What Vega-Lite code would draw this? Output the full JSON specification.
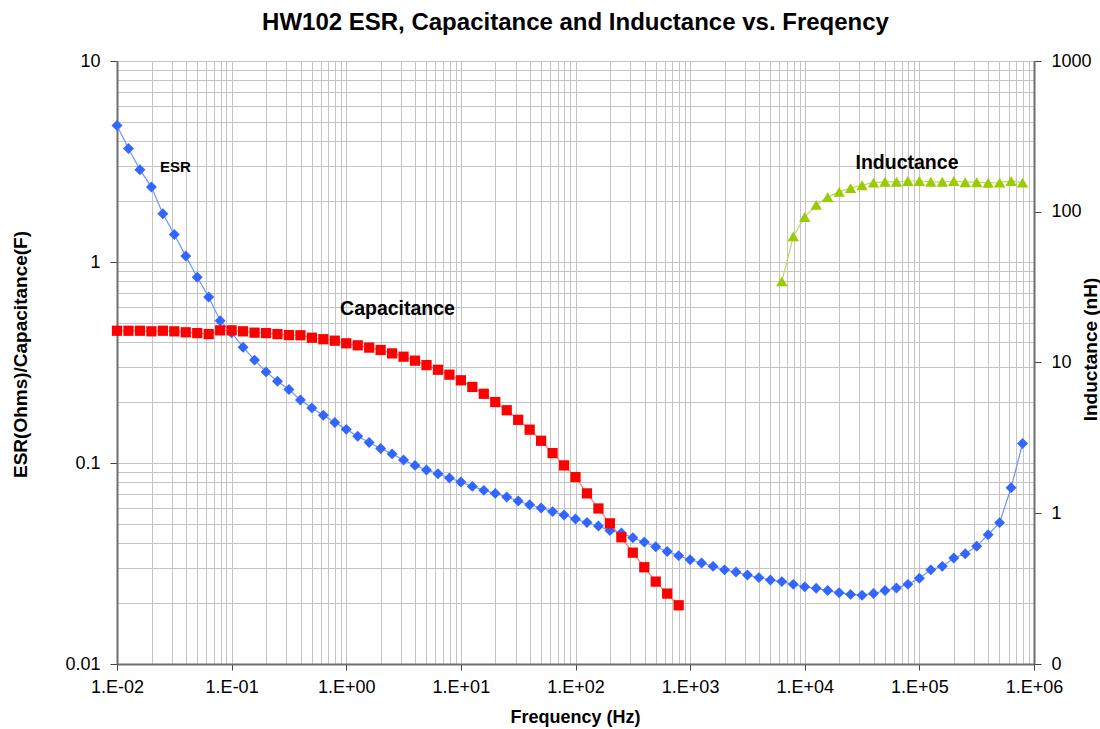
{
  "$schema": "https://vega.github.io/schema/vega-lite/v6.json",
  "width": 917,
  "height": 603,
  "autosize": {"type": "none"},
  "padding": {"left": 117, "top": 61, "right": 66, "bottom": 65},
  "background": "white",
  "config": {"font": "Liberation Sans", "view": {"stroke": null}},
  "title": {"text": "HW102 ESR, Capacitance and Inductance vs. Freqency", "font": "Liberation Sans", "fontSize": 24, "fontWeight": "bold", "color": "#000000", "anchor": "middle", "offset": 17},
  "datasets": {
    "esr": [
      {"f": 0.01, "v": 4.78}, {"f": 0.012589, "v": 3.67}, {"f": 0.015849, "v": 2.88}, {"f": 0.019953, "v": 2.36}, {"f": 0.025119, "v": 1.74},
      {"f": 0.031623, "v": 1.37}, {"f": 0.039811, "v": 1.07}, {"f": 0.050119, "v": 0.84}, {"f": 0.063096, "v": 0.67}, {"f": 0.079433, "v": 0.51},
      {"f": 0.1, "v": 0.444}, {"f": 0.12589, "v": 0.377}, {"f": 0.15849, "v": 0.325}, {"f": 0.19953, "v": 0.284}, {"f": 0.25119, "v": 0.255},
      {"f": 0.31623, "v": 0.232}, {"f": 0.39811, "v": 0.206}, {"f": 0.50119, "v": 0.188}, {"f": 0.63096, "v": 0.173}, {"f": 0.79433, "v": 0.159},
      {"f": 1, "v": 0.147}, {"f": 1.2589, "v": 0.136}, {"f": 1.5849, "v": 0.1265}, {"f": 1.9953, "v": 0.118}, {"f": 2.5119, "v": 0.111},
      {"f": 3.1623, "v": 0.1035}, {"f": 3.9811, "v": 0.0973}, {"f": 5.0119, "v": 0.0923}, {"f": 6.3096, "v": 0.0885}, {"f": 7.9433, "v": 0.0842},
      {"f": 10, "v": 0.0804}, {"f": 12.589, "v": 0.0765}, {"f": 15.849, "v": 0.0731}, {"f": 19.953, "v": 0.0706}, {"f": 25.119, "v": 0.0678},
      {"f": 31.623, "v": 0.0647}, {"f": 39.811, "v": 0.062}, {"f": 50.119, "v": 0.0597}, {"f": 63.096, "v": 0.0573}, {"f": 79.433, "v": 0.0551},
      {"f": 100, "v": 0.0526}, {"f": 125.89, "v": 0.0506}, {"f": 158.49, "v": 0.0486}, {"f": 199.53, "v": 0.0461}, {"f": 251.19, "v": 0.0449},
      {"f": 316.23, "v": 0.0425}, {"f": 398.11, "v": 0.0404}, {"f": 501.19, "v": 0.0383}, {"f": 630.96, "v": 0.0363}, {"f": 794.33, "v": 0.0346},
      {"f": 1000, "v": 0.033}, {"f": 1258.9, "v": 0.0318}, {"f": 1584.9, "v": 0.0306}, {"f": 1995.3, "v": 0.0294}, {"f": 2511.9, "v": 0.0287},
      {"f": 3162.3, "v": 0.0277}, {"f": 3981.1, "v": 0.0269}, {"f": 5011.9, "v": 0.0262}, {"f": 6309.6, "v": 0.0257}, {"f": 7943.3, "v": 0.0249},
      {"f": 10000, "v": 0.0242}, {"f": 12589, "v": 0.0238}, {"f": 15849, "v": 0.0232}, {"f": 19953, "v": 0.0226}, {"f": 25119, "v": 0.0222},
      {"f": 31623, "v": 0.022}, {"f": 39811, "v": 0.0224}, {"f": 50119, "v": 0.0232}, {"f": 63096, "v": 0.0239}, {"f": 79433, "v": 0.0249},
      {"f": 100000, "v": 0.0267}, {"f": 125893, "v": 0.0294}, {"f": 158489, "v": 0.0306}, {"f": 199526, "v": 0.0337}, {"f": 251189, "v": 0.0354},
      {"f": 316228, "v": 0.0385}, {"f": 398107, "v": 0.044}, {"f": 501187, "v": 0.0505}, {"f": 630957, "v": 0.0753}, {"f": 794328, "v": 0.125}
    ],
    "cap": [
      {"f": 0.01, "v": 0.455}, {"f": 0.012589, "v": 0.455}, {"f": 0.015849, "v": 0.455}, {"f": 0.019953, "v": 0.452}, {"f": 0.025119, "v": 0.455},
      {"f": 0.031623, "v": 0.452}, {"f": 0.039811, "v": 0.447}, {"f": 0.050119, "v": 0.443}, {"f": 0.063096, "v": 0.438}, {"f": 0.079433, "v": 0.457},
      {"f": 0.1, "v": 0.457}, {"f": 0.12589, "v": 0.452}, {"f": 0.15849, "v": 0.445}, {"f": 0.19953, "v": 0.443}, {"f": 0.25119, "v": 0.438},
      {"f": 0.31623, "v": 0.433}, {"f": 0.39811, "v": 0.432}, {"f": 0.50119, "v": 0.42}, {"f": 0.63096, "v": 0.413}, {"f": 0.79433, "v": 0.406},
      {"f": 1, "v": 0.394}, {"f": 1.2589, "v": 0.385}, {"f": 1.5849, "v": 0.375}, {"f": 1.9953, "v": 0.365}, {"f": 2.5119, "v": 0.351},
      {"f": 3.1623, "v": 0.338}, {"f": 3.9811, "v": 0.323}, {"f": 5.0119, "v": 0.307}, {"f": 6.3096, "v": 0.291}, {"f": 7.9433, "v": 0.275},
      {"f": 10, "v": 0.258}, {"f": 12.589, "v": 0.239}, {"f": 15.849, "v": 0.221}, {"f": 19.953, "v": 0.201}, {"f": 25.119, "v": 0.183},
      {"f": 31.623, "v": 0.164}, {"f": 39.811, "v": 0.1465}, {"f": 50.119, "v": 0.129}, {"f": 63.096, "v": 0.112}, {"f": 79.433, "v": 0.0973},
      {"f": 100, "v": 0.0851}, {"f": 125.89, "v": 0.0706}, {"f": 158.49, "v": 0.0594}, {"f": 199.53, "v": 0.0501}, {"f": 251.19, "v": 0.0427},
      {"f": 316.23, "v": 0.0358}, {"f": 398.11, "v": 0.0303}, {"f": 501.19, "v": 0.0257}, {"f": 630.96, "v": 0.0224}, {"f": 794.33, "v": 0.0196}
    ],
    "ind": [
      {"f": 6309.6, "v": 34.5}, {"f": 7943.3, "v": 68.6}, {"f": 10000, "v": 92.3}, {"f": 12589, "v": 111}, {"f": 15849, "v": 125},
      {"f": 19953, "v": 135.5}, {"f": 25119, "v": 143.5}, {"f": 31623, "v": 150}, {"f": 39811, "v": 156}, {"f": 50119, "v": 158},
      {"f": 63096, "v": 158}, {"f": 79433, "v": 160}, {"f": 100000, "v": 160}, {"f": 125893, "v": 158}, {"f": 158489, "v": 158},
      {"f": 199526, "v": 160}, {"f": 251189, "v": 157}, {"f": 316228, "v": 157}, {"f": 398107, "v": 155.6}, {"f": 501187, "v": 156},
      {"f": 630957, "v": 160}, {"f": 794328, "v": 156}
    ],
    "leftLabels": [
      {"f": 0.0323, "v": 2.98, "label": "ESR", "size": 15},
      {"f": 2.8, "v": 0.586, "label": "Capacitance", "size": 19.5}
    ],
    "rightLabels": [
      {"f": 78000, "v": 211, "label": "Inductance"}
    ]
  },
  "encoding": {
    "x": {
      "field": "f", "type": "quantitative",
      "scale": {"type": "log", "domain": [0.01, 1000000], "nice": false},
      "axis": {
        "title": "Frequency (Hz)",
        "values": [0.01,0.02,0.03,0.04,0.05,0.06,0.07,0.08,0.09,0.1,0.2,0.3,0.4,0.5,0.6,0.7,0.8,0.9,1,2,3,4,5,6,7,8,9,10,20,30,40,50,60,70,80,90,100,200,300,400,500,600,700,800,900,1000,2000,3000,4000,5000,6000,7000,8000,9000,10000,20000,30000,40000,50000,60000,70000,80000,90000,100000,200000,300000,400000,500000,600000,700000,800000,900000,1000000],
        "grid": true, "gridColor": "#c4c4c4", "gridWidth": 1,
        "tickOpacity": {"condition": {"test": "indexof([0.01,0.1,1,10,100,1000,10000,100000,1000000], datum.value) >= 0", "value": 1}, "value": 0},
        "tickSize": 6, "tickColor": "#444444",
        "labelExpr": "indexof([0.01,0.1,1,10,100,1000,10000,100000,1000000], datum.value) < 0 ? '' : ['1.E-02','1.E-01','1.E+00','1.E+01','1.E+02','1.E+03','1.E+04','1.E+05','1.E+06'][indexof([0.01,0.1,1,10,100,1000,10000,100000,1000000], datum.value)]",
        "labelFont": "Liberation Sans", "labelFontSize": 18, "labelColor": "#000000", "labelPadding": 8,
        "labelOverlap": false, "labelFlush": false,
        "titleFont": "Liberation Sans", "titleFontSize": 18, "titleFontWeight": "bold", "titleColor": "#000000",
        "titleX": 458, "titleY": 53, "titleBaseline": "middle", "titleAlign": "center",
        "domainColor": "#6e6e6e", "domainWidth": 2
      }
    }
  },
  "layer": [
    {
      "encoding": {
        "y": {
          "field": "v", "type": "quantitative",
          "scale": {"type": "log", "domain": [0.01, 10], "nice": false},
          "axis": {
            "orient": "left",
            "title": "ESR(Ohms)/Capacitance(F)",
            "values": [0.01,0.02,0.03,0.04,0.05,0.06,0.07,0.08,0.09,0.1,0.2,0.3,0.4,0.5,0.6,0.7,0.8,0.9,1,2,3,4,5,6,7,8,9,10],
            "grid": true, "gridColor": "#c4c4c4", "gridWidth": 1,
            "tickOpacity": {"condition": {"test": "indexof([0.01,0.1,1,10], datum.value) >= 0", "value": 1}, "value": 0},
            "tickSize": 7, "tickColor": "#444444",
            "labelExpr": "indexof([0.01,0.1,1,10], datum.value) < 0 ? '' : format(datum.value, '~g')",
            "labelFont": "Liberation Sans", "labelFontSize": 18, "labelColor": "#000000", "labelPadding": 10,
            "labelOverlap": false, "labelFlush": false,
            "titleFont": "Liberation Sans", "titleFontSize": 19, "titleFontWeight": "bold", "titleColor": "#000000",
            "titleX": -97, "titleY": 293, "titleBaseline": "middle", "titleAlign": "center", "titleAngle": -90,
            "domainColor": "#6e6e6e", "domainWidth": 2
          }
        }
      },
      "layer": [
        {"data": {"name": "esr"}, "mark": {"type": "line", "color": "#7094ff", "strokeWidth": 1.2}},
        {"data": {"name": "esr"}, "mark": {"type": "point", "shape": "diamond", "filled": true, "size": 120, "color": "#3366ff", "opacity": 1}},
        {"data": {"name": "cap"}, "mark": {"type": "line", "color": "#ff7a7a", "strokeWidth": 1.2}},
        {"data": {"name": "cap"}, "mark": {"type": "point", "shape": "square", "filled": true, "size": 105, "color": "#ff0000", "opacity": 1}},
        {"data": {"name": "leftLabels"}, "mark": {"type": "text", "font": "Liberation Sans", "fontWeight": "bold", "color": "#000000", "align": "center", "baseline": "middle"},
         "encoding": {"text": {"field": "label"}, "size": {"field": "size", "type": "quantitative", "scale": null}}}
      ]
    },
    {
      "encoding": {
        "y": {
          "field": "v", "type": "quantitative",
          "scale": {"type": "log", "domain": [0.1, 1000], "nice": false},
          "axis": {
            "orient": "right",
            "title": "Inductance (nH)",
            "values": [0.1, 1, 10, 100, 1000],
            "grid": false,
            "tickSize": 7, "tickColor": "#444444",
            "labelExpr": "datum.value < 1 ? '0' : format(datum.value, 'd')",
            "labelFont": "Liberation Sans", "labelFontSize": 18, "labelColor": "#000000", "labelPadding": 10,
            "labelOverlap": false, "labelFlush": false,
            "titleFont": "Liberation Sans", "titleFontSize": 19, "titleFontWeight": "bold", "titleColor": "#000000",
            "titleX": 56, "titleY": 288, "titleBaseline": "middle", "titleAlign": "center", "titleAngle": -90,
            "domainColor": "#6e6e6e", "domainWidth": 2
          }
        }
      },
      "layer": [
        {"data": {"name": "ind"}, "mark": {"type": "line", "color": "#b8dc55", "strokeWidth": 1.2}},
        {"data": {"name": "ind"}, "mark": {"type": "point", "shape": "triangle-up", "filled": true, "size": 130, "color": "#99cc00", "opacity": 1}},
        {"data": {"name": "rightLabels"}, "mark": {"type": "text", "font": "Liberation Sans", "fontWeight": "bold", "fontSize": 19.5, "color": "#000000", "align": "center", "baseline": "middle"},
         "encoding": {"text": {"field": "label"}}}
      ]
    }
  ],
  "resolve": {"scale": {"y": "independent"}, "axis": {"y": "independent"}}
}
